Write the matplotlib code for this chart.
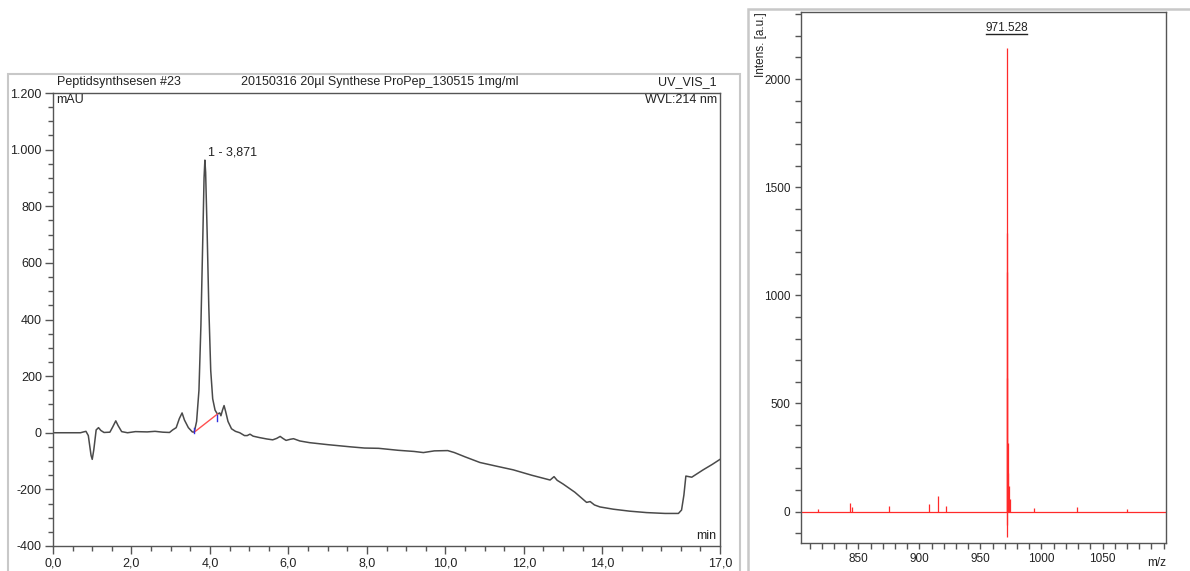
import matplotlib
matplotlib.use('Agg')
import matplotlib.pyplot as plt
from matplotlib.ticker import FixedLocator, FixedFormatter, MultipleLocator
from matplotlib.patches import Rectangle
from matplotlib.lines import Line2D

plt.rcParams['font.family'] = ['Liberation Sans', 'DejaVu Sans']

# HPLC trace, UV 214 nm (retention time in min, absorbance in mAU)
rt = [0.0, 0.7, 0.78, 0.84, 0.9, 0.97, 1.0, 1.04, 1.1, 1.16, 1.22, 1.3, 1.45, 1.52,
      1.6, 1.66, 1.75, 1.9, 2.1, 2.4, 2.6, 2.8, 2.97, 3.05, 3.14, 3.22, 3.29, 3.35,
      3.45, 3.55, 3.60, 3.66, 3.72, 3.77, 3.82, 3.85, 3.871, 3.89, 3.93, 3.97, 4.02,
      4.07, 4.13, 4.19, 4.25, 4.28, 4.32, 4.36, 4.40, 4.46, 4.55, 4.65, 4.76, 4.88,
      4.95, 5.02, 5.1, 5.26, 5.45, 5.6, 5.7, 5.79, 5.86, 5.94, 6.05, 6.13, 6.29, 6.54,
      7.0, 7.3, 7.6, 7.94, 8.3, 8.8, 9.2, 9.44, 9.72, 10.06, 10.23, 10.5, 10.88, 11.3,
      11.73, 12.2, 12.67, 12.77, 12.85, 13.0, 13.3, 13.6, 13.69, 13.8, 13.94, 14.28,
      14.7, 15.13, 15.6, 15.94, 16.02, 16.08, 16.13, 16.28, 16.57, 16.8, 17.0]
mau = [0, 0, 3, 5, -10, -80, -94, -60, 10, 18, 8, 1, 2, 20,
       42, 25, 4, 0, 4, 3, 5, 2, 1, 10, 18, 50, 70, 45,
       18, 3, 2, 40, 150, 380, 700, 900, 963, 920, 700, 450, 220,
       120, 80, 66, 70, 60, 80, 96, 75, 40, 14, 5, 0, -10,
       -10, -5, -12, -17, -22, -25, -20, -13, -20, -27, -23, -21, -29, -35,
       -42, -46, -50, -54, -55, -62, -66, -70, -64, -63, -70, -85, -105, -118,
       -131, -150, -167, -155, -168, -181, -210, -246, -243, -255, -262, -270,
       -277, -282, -285, -285, -273, -220, -153, -157, -131, -112, -94]

peak_rt = 3.871
peak_mau = 963
peak_label = '1 - 3,871'
# integration baseline of peak 1
int_start = (3.60, 2)
int_end = (4.19, 66)

x_ticks = [0, 2, 4, 6, 8, 10, 12, 14, 17]
x_labels = ['0,0', '2,0', '4,0', '6,0', '8,0', '10,0', '12,0', '14,0', '17,0']
y_ticks = [-400, -200, 0, 200, 400, 600, 800, 1000, 1200]
y_labels = ['-400', '-200', '0', '200', '400', '600', '800', '1.000', '1.200']

# MALDI spectrum: baseline noise peaks and the main isotope cluster
mz = [817, 843, 845, 875, 908, 915, 922, 994, 1029, 1070,
      971.35, 971.528, 971.60, 971.70, 971.85, 972.0, 972.3, 972.9, 973.6, 974.3]
intens = [12, 40, 20, 25, 35, 72, 25, 18, 22, 12,
          -115, 2143, 1289, 1108, 619, -60, 319, 180, 120, 60]
ms_label = '971.528'
ms_peak = 971.528
mz_ticks = [850, 900, 950, 1000, 1050]

fig = plt.figure(figsize=(11.9, 5.71), dpi=100)
W, H = 1190, 571

# grey panel frames
fig.patches.append(Rectangle((8 / W, -0.01), (740 - 8) / W, (571 - 74) / H + 0.01,
                             transform=fig.transFigure, fill=False, ec='#c8c8c8', lw=1.5))
fig.patches.append(Rectangle((748 / W, -0.01), 0.5, (571 - 9) / H + 0.01,
                             transform=fig.transFigure, fill=False, ec='#c8c8c8', lw=1.8))

# ---- chromatogram ----
ax = fig.add_axes([53 / W, (571 - 546) / H, (720 - 53) / W, (546 - 93) / H])
ax.plot(rt, mau, color='#4a4a4a', lw=1.1)
ax.plot([int_start[0], int_end[0]], [int_start[1], int_end[1]], color='#ff5050', lw=1.0)
ax.plot([int_start[0], int_start[0]], [int_start[1] - 2, int_start[1] + 14], color='#3030e0', lw=1.0)
ax.plot([int_end[0], int_end[0]], [int_end[1] - 25, int_end[1] - 5], color='#3030e0', lw=1.0)
ax.annotate(peak_label, (peak_rt, peak_mau), xytext=(2, 1), textcoords='offset points',
            ha='left', va='bottom', fontsize=9, color='#222222')

ax.set_xlim(0, 17)
ax.set_ylim(-400, 1200)
ax.xaxis.set_major_locator(FixedLocator(x_ticks))
ax.xaxis.set_major_formatter(FixedFormatter(x_labels))
ax.xaxis.set_minor_locator(MultipleLocator(0.5))
ax.yaxis.set_major_locator(FixedLocator(y_ticks))
ax.yaxis.set_major_formatter(FixedFormatter(y_labels))
ax.yaxis.set_minor_locator(MultipleLocator(50))
ax.tick_params(which='major', direction='out', length=6, width=1, color='#555555',
               labelsize=9, labelcolor='#222222', pad=2)
ax.tick_params(which='minor', direction='out', length=3.5, width=1, color='#555555')
for s in ax.spines.values():
    s.set_color('#555555')
    s.set_linewidth(1.0)

ax.text(0.004, 0.997, 'mAU', transform=ax.transAxes, ha='left', va='top', fontsize=9, color='#222222')
ax.text(0.995, 0.997, 'WVL:214 nm', transform=ax.transAxes, ha='right', va='top', fontsize=9, color='#222222')
ax.text(0.995, 0.008, 'min', transform=ax.transAxes, ha='right', va='bottom', fontsize=9, color='#222222')
ax.text(0.006, 1.01, 'Peptidsynthsesen #23', transform=ax.transAxes, ha='left', va='bottom', fontsize=9, color='#222222')
ax.text(0.49, 1.01, '20150316 20µl Synthese ProPep_130515 1mg/ml', transform=ax.transAxes,
        ha='center', va='bottom', fontsize=9, color='#222222')
ax.text(0.995, 1.01, 'UV_VIS_1', transform=ax.transAxes, ha='right', va='bottom', fontsize=9, color='#222222')

# ---- mass spectrum ----
ms = fig.add_axes([801 / W, (571 - 543) / H, (1166 - 801) / W, (543 - 12) / H])
ms.axhline(0, color='#ff2a2a', lw=0.9)
ms.vlines(mz, 0, intens, color='#ff2a2a', lw=0.9)
ms.set_xlim(803, 1102)
ms.set_ylim(-145, 2310)
ms.xaxis.set_major_locator(FixedLocator(mz_ticks))
ms.xaxis.set_minor_locator(MultipleLocator(10))
ms.yaxis.set_major_locator(MultipleLocator(500))
ms.yaxis.set_minor_locator(MultipleLocator(100))
ms.tick_params(which='both', direction='out', length=4.5, width=1, color='#555555',
               labelsize=8.5, labelcolor='#222222', pad=3)
for s in ms.spines.values():
    s.set_color('#555555')
    s.set_linewidth(1.0)

ms.text(ms_peak, 2222, ms_label, ha='center', va='baseline', fontsize=8.5, color='#222222')
ms.add_line(Line2D([ms_peak - 16.8, ms_peak + 16.8], [2210, 2210], color='#222222', lw=1.0))
ms.text(1.0, -0.038, 'm/z', transform=ms.transAxes, ha='right', va='center', fontsize=8.5, color='#222222')
ms.text(-0.11, 1.0, 'Intens. [a.u.]', transform=ms.transAxes, rotation=90,
        ha='center', va='top', fontsize=8.5, color='#222222')

fig.savefig('out.png', dpi=100)
